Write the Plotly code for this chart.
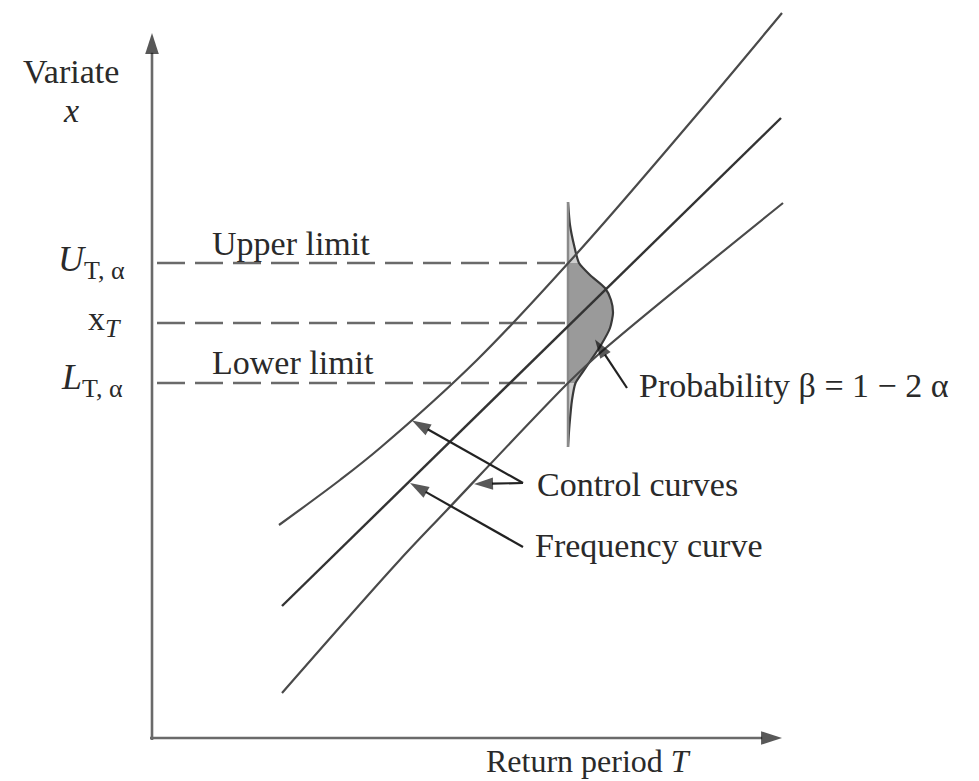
import plotly.graph_objects as go

# Frequency curve (straight line on probability paper): return-period scale vs variate
freq_T = [2.60, 12.58]
freq_x = [2.64, 12.40]

# Upper and lower control curves
upper_T = [2.54, 3.76, 4.56, 6.50, 8.56, 10.96, 12.60]
upper_x = [4.26, 5.16, 5.80, 7.56, 9.76, 12.54, 14.50]
lower_T = [2.60, 4.90, 5.90, 8.32, 8.96, 12.62]
lower_x = [0.90, 3.50, 4.56, 7.10, 7.70, 10.70]

# Return period at which the sampling distribution is drawn, and its limits
T_eval = 8.32
U_limit = 9.50
x_T = 8.30
L_limit = 7.10

# Sampling distribution of the variate at T_eval (variate value, density width)
dens_x = [10.72, 10.26, 9.86, 9.50, 9.26, 9.00, 8.76, 8.50, 8.20, 7.86, 7.56, 7.30, 7.10, 6.76, 6.26, 5.82]
dens_w = [0.00, 0.04, 0.12, 0.22, 0.44, 0.74, 0.86, 0.90, 0.84, 0.66, 0.46, 0.28, 0.15, 0.08, 0.03, 0.00]

FONT = "Liberation Serif"
TXT = "#2a2a2a"
LINE = "#4a4a4a"

fig = go.Figure()

# full distribution (light tails)
fig.add_trace(go.Scatter(
    x=[T_eval + w for w in dens_w] + [T_eval, T_eval],
    y=dens_x + [dens_x[-1], dens_x[0]],
    mode="lines", fill="toself", fillcolor="#cfcfcf",
    line=dict(color="rgba(0,0,0,0)", width=0), hoverinfo="skip"))

# central part between the limits: probability beta
mid = [(v, w) for v, w in zip(dens_x, dens_w) if L_limit <= v <= U_limit]
fig.add_trace(go.Scatter(
    x=[T_eval + w for _, w in mid] + [T_eval, T_eval],
    y=[v for v, _ in mid] + [mid[-1][0], mid[0][0]],
    mode="lines", fill="toself", fillcolor="#9a9a9a",
    line=dict(color="rgba(0,0,0,0)", width=0), hoverinfo="skip"))

# distribution outline
fig.add_trace(go.Scatter(
    x=[T_eval + w for w in dens_w], y=dens_x, mode="lines",
    line=dict(color="#3a3a3a", width=2.2, shape="spline", smoothing=0.6),
    hoverinfo="skip"))
fig.add_trace(go.Scatter(
    x=[T_eval, T_eval], y=[dens_x[-1], dens_x[0]], mode="lines",
    line=dict(color="#8a8a8a", width=2.5), hoverinfo="skip"))

# horizontal dashed guides
for level in [U_limit, x_T, L_limit]:
    fig.add_trace(go.Scatter(
        x=[0.1, T_eval], y=[level, level], mode="lines",
        line=dict(color="#6a6a6a", width=2.5, dash="28px,10px"), hoverinfo="skip"))

# curves
fig.add_trace(go.Scatter(x=upper_T, y=upper_x, mode="lines",
                         line=dict(color=LINE, width=2.2, shape="spline"), hoverinfo="skip"))
fig.add_trace(go.Scatter(x=freq_T, y=freq_x, mode="lines",
                         line=dict(color="#333333", width=2.4), hoverinfo="skip"))
fig.add_trace(go.Scatter(x=lower_T, y=lower_x, mode="lines",
                         line=dict(color=LINE, width=2.2, shape="spline"), hoverinfo="skip"))


def arrow(tail, head, color="#222222", width=2.2, size=20, head_color="#111111"):
    """Straight line from tail to head, finished with an arrowhead marker."""
    fig.add_trace(go.Scatter(
        x=[tail[0], head[0]], y=[tail[1], head[1]], mode="lines+markers",
        line=dict(color=color, width=width),
        marker=dict(symbol=["circle", "arrow"], size=[0, size], color=head_color,
                    angleref="previous", line=dict(width=0)),
        hoverinfo="skip"))


# axes with arrowheads
arrow((-0.04, 0), (12.60, 0), color="#6a6a6a", width=2.6, size=22)
arrow((0, -0.04), (0, 14.10), color="#6a6a6a", width=2.6, size=22)

# pointer arrows
arrow((7.42, 5.10), (5.20, 6.35))
arrow((7.42, 5.10), (6.44, 5.08))
arrow((7.42, 3.82), (5.16, 5.10))
arrow((9.50, 7.00), (8.86, 7.97))


def label(text, x, y, xanchor="center", size=34):
    fig.add_annotation(x=x, y=y, xref="x", yref="y", text=text, showarrow=False,
                       xanchor=xanchor, yanchor="middle",
                       font=dict(family=FONT, size=size, color=TXT))


SUB = "<sub><span style='font-size:26px'>{}</span></sub>"

label("Variate", -1.62, 13.34)
label("<i>x</i>", -1.62, 12.56)
label("<i>U</i>" + SUB.format("T, α"), -0.50, 9.52, xanchor="right", size=36)
label("x" + SUB.format("<i>T</i>"), -0.58, 8.34, xanchor="right")
label("<i>L</i>" + SUB.format("T, α"), -0.54, 7.16, xanchor="right", size=36)
label("Upper limit", 2.78, 9.90)
label("Lower limit", 2.82, 7.52)
label("Probability β = 1 − 2 α", 9.70, 7.06, xanchor="left")
label("Control curves", 7.66, 5.08, xanchor="left")
label("Frequency curve", 7.62, 3.86, xanchor="left")
label("Return period <i>T</i>", 8.72, -0.46, size=32)

fig.update_layout(
    width=979, height=781,
    margin=dict(l=0, r=0, t=0, b=0),
    paper_bgcolor="white", plot_bgcolor="white",
    showlegend=False,
    xaxis=dict(range=[-3.04, 16.54], visible=False, fixedrange=True),
    yaxis=dict(range=[-0.86, 14.76], visible=False, fixedrange=True),
)

fig.write_html("out.html")
